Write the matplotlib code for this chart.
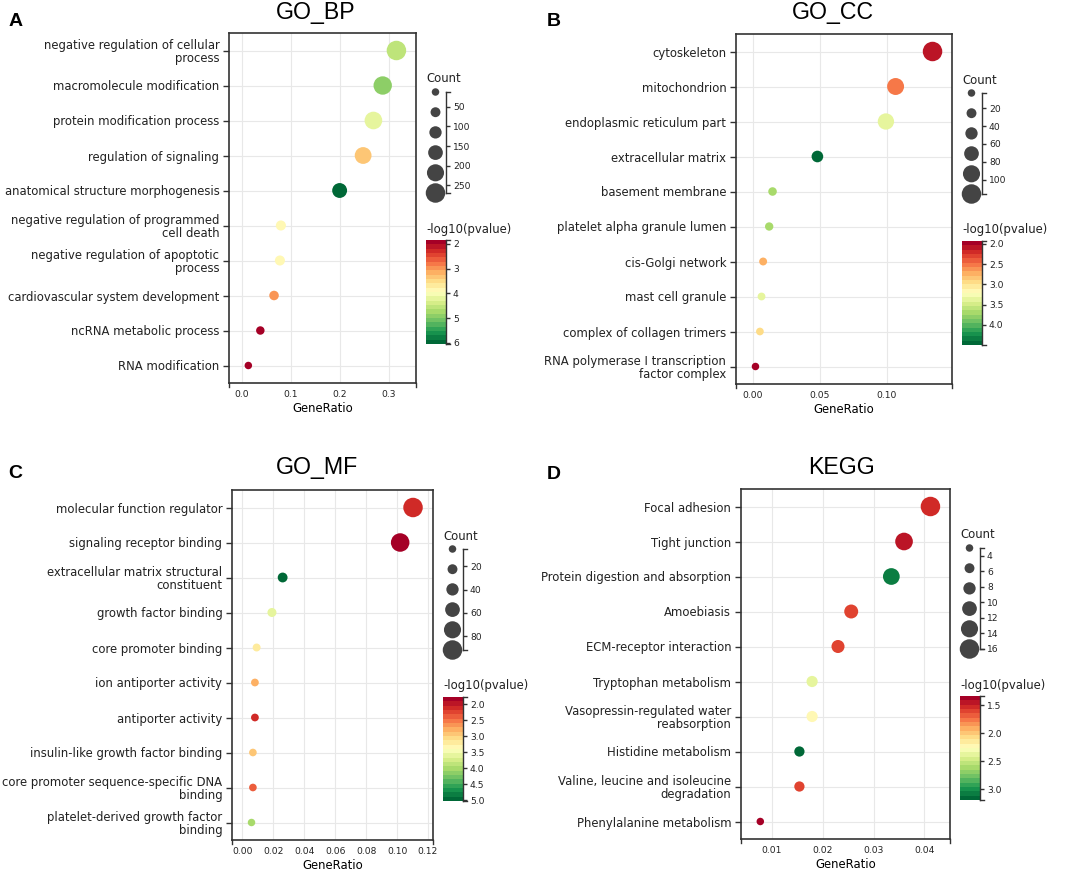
import numpy as np
import matplotlib
matplotlib.use("Agg")
import matplotlib.pyplot as plt
from matplotlib.colors import Normalize
from matplotlib import cm
from matplotlib.lines import Line2D

plt.rcParams['font.family'] = 'DejaVu Sans'
plt.rcParams['text.color'] = '#222222'
plt.rcParams['xtick.color'] = '#222222'
plt.rcParams['ytick.color'] = '#222222'

W, H = 1065, 875

# GO_BP
bp_terms = ["negative regulation of cellular\nprocess", "macromolecule modification",
            "protein modification process", "regulation of signaling",
            "anatomical structure morphogenesis", "negative regulation of programmed\ncell death",
            "negative regulation of apoptotic\nprocess", "cardiovascular system development",
            "ncRNA metabolic process", "RNA modification"]
bp_ratio = [0.316, 0.288, 0.269, 0.248, 0.200, 0.080, 0.078, 0.066, 0.038, 0.0135]
bp_count = [270, 246, 230, 212, 171, 68, 67, 56, 33, 12]
bp_logp = [4.6, 4.9, 4.15, 3.3, 6.05, 3.9, 3.9, 2.9, 1.95, 1.95]
bp_crange = (1.84, 6.05)
bp_size_ticks = [50, 100, 150, 200, 250]
bp_cbar_ticks = [2, 3, 4, 5, 6]

# GO_CC
cc_terms = ["cytoskeleton", "mitochondrion", "endoplasmic reticulum part", "extracellular matrix",
            "basement membrane", "platelet alpha granule lumen", "cis-Golgi network",
            "mast cell granule", "complex of collagen trimers",
            "RNA polymerase I transcription\nfactor complex"]
cc_ratio = [0.134, 0.1065, 0.0993, 0.0483, 0.0149, 0.0124, 0.0079, 0.0067, 0.0055, 0.0022]
cc_count = [116, 92, 86, 42, 13, 11, 7, 6, 5, 3]
cc_logp = [2.04, 2.57, 3.35, 4.45, 3.75, 3.75, 2.7, 3.4, 3.0, 1.98]
cc_crange = (1.93, 4.5)
cc_size_ticks = [20, 40, 60, 80, 100]
cc_cbar_ticks = [2.0, 2.5, 3.0, 3.5, 4.0]

# GO_MF
mf_terms = ["molecular function regulator", "signaling receptor binding",
            "extracellular matrix structural\nconstituent", "growth factor binding",
            "core promoter binding", "ion antiporter activity", "antiporter activity",
            "insulin-like growth factor binding", "core promoter sequence-specific DNA\nbinding",
            "platelet-derived growth factor\nbinding"]
mf_ratio = [0.1103, 0.102, 0.0261, 0.0192, 0.0093, 0.0082, 0.0082, 0.0069, 0.0069, 0.006]
mf_count = [92, 85, 22, 16, 8, 7, 7, 6, 6, 5]
mf_logp = [2.05, 1.85, 5.0, 3.55, 3.15, 2.75, 2.15, 2.9, 2.4, 4.05]
mf_crange = (1.77, 5.03)
mf_size_ticks = [20, 40, 60, 80]
mf_cbar_ticks = [2.0, 2.5, 3.0, 3.5, 4.0, 4.5, 5.0]

# KEGG
kegg_terms = ["Focal adhesion", "Tight junction", "Protein digestion and absorption",
              "Amoebiasis", "ECM-receptor interaction", "Tryptophan metabolism",
              "Vasopressin-regulated water\nreabsorption", "Histidine metabolism",
              "Valine, leucine and isoleucine\ndegradation", "Phenylalanine metabolism"]
kegg_ratio = [0.0412, 0.036, 0.0335, 0.0256, 0.0230, 0.0179, 0.0179, 0.0154, 0.0154, 0.0077]
kegg_count = [16, 14, 13, 10, 9, 7, 7, 6, 6, 3]
kegg_logp = [1.5, 1.42, 3.1, 1.58, 1.58, 2.39, 2.26, 3.19, 1.58, 1.34]
kegg_crange = (1.335, 3.19)
kegg_size_ticks = [4, 6, 8, 10, 12, 14, 16]
kegg_cbar_ticks = [1.5, 2.0, 2.5, 3.0]

cmap = plt.get_cmap('RdYlGn', 24)
dark = '#333333'
label_fs = 8.4


def px_rect(x0, y0, x1, y1):
    return [x0 / W, 1 - y1 / H, (x1 - x0) / W, (y1 - y0) / H]


def dot_size(c, cmin, cmax):
    d = 7.5 + (c - cmin) / (cmax - cmin) * 12.0  # diameter in px
    return (d * 72 / 100) ** 2


def end_ticks(ax, horizontal, span_px):
    # small ticks at both ends of an axis line (bracket look)
    k = 4.0 / span_px
    for e in (0, 1):
        if horizontal:
            xs, ys = [e, e], [0, -k]
        else:
            xs, ys = [1, 1 + k], [e, e]
        ax.add_line(Line2D(xs, ys, transform=ax.transAxes, color=dark, lw=1.0, clip_on=False))


def draw_panel(fig, box, terms, ratio, count, logp, crange, xlim, xticks, xfmt,
               size_ticks, cbar_ticks, cbar_fmt, title, title_xy, letter, letter_xy):
    x0, y0, x1, y1 = box
    ax = fig.add_axes(px_rect(x0, y0, x1, y1))
    n = len(terms)
    ypos = np.arange(n)[::-1]
    cmin, cmax = min(count), max(count)
    norm = Normalize(*crange)

    ax.set_axisbelow(True)
    ax.scatter(ratio, ypos, s=[dot_size(c, cmin, cmax) for c in count], c=logp,
               cmap=cmap, norm=norm, linewidths=0, zorder=3)
    ax.set_ylim(-0.5, n - 0.5)
    ax.set_xlim(*xlim)
    ax.set_yticks(ypos)
    ax.set_yticklabels(terms, fontsize=label_fs, linespacing=1.0)
    ax.set_xticks(xticks)
    ax.set_xticklabels([xfmt.format(v) for v in xticks], fontsize=6.6)
    ax.tick_params(axis='x', length=0, pad=5)
    ax.tick_params(axis='y', length=4, width=1, color=dark, pad=3)
    ax.grid(True, color='#e8e8e8', lw=0.8)
    for s in ax.spines.values():
        s.set_color(dark)
        s.set_linewidth(1.2)
    end_ticks(ax, True, y1 - y0)
    ax.set_xlabel('GeneRatio', fontsize=label_fs, labelpad=2)

    # size legend
    lx0 = x1 + 10
    lax = fig.add_axes(px_rect(lx0, y0 + 59, lx0 + 20, y0 + 160))
    lax.patch.set_visible(False)
    lax.set_xlim(0, 1)
    lax.set_ylim(cmax, cmin)
    levels = np.linspace(cmin, cmax, 6)
    lax.scatter([0.475] * 6, levels, s=[dot_size(c, cmin, cmax) for c in levels],
                color='#444444', linewidths=0, clip_on=False)
    for k in ('left', 'top', 'bottom'):
        lax.spines[k].set_visible(False)
    lax.spines['right'].set_color(dark)
    lax.spines['right'].set_linewidth(1.0)
    lax.set_xticks([])
    lax.yaxis.tick_right()
    lax.set_yticks(size_ticks)
    lax.tick_params(axis='y', length=3, width=1, color=dark, labelsize=6.6, pad=2)
    end_ticks(lax, False, 20)
    fig.text(lx0 / W, 1 - (y0 + 46) / H, 'Count', fontsize=label_fs, va='center', ha='left')

    # colour bar
    cax = fig.add_axes(px_rect(lx0, y0 + 207, lx0 + 20, y0 + 311))
    sm = cm.ScalarMappable(norm=norm, cmap=cmap)
    cb = fig.colorbar(sm, cax=cax, ticks=cbar_ticks)
    cb.outline.set_visible(False)
    cax.invert_yaxis()
    cb.set_ticklabels([cbar_fmt.format(v) for v in cbar_ticks])
    cax.tick_params(length=3, width=1, color=dark, labelsize=6.6, pad=2)
    cax.add_line(Line2D([1, 1], [0, 1], transform=cax.transAxes, color=dark, lw=1.0, clip_on=False))
    end_ticks(cax, False, 20)
    fig.text(lx0 / W, 1 - (y0 + 196) / H, '-log10(pvalue)', fontsize=label_fs, va='center', ha='left')

    fig.text(title_xy[0] / W, 1 - title_xy[1] / H, title, fontsize=16.7,
             family='Liberation Sans', ha='center', va='center', color='black')
    fig.text(letter_xy[0] / W, 1 - letter_xy[1] / H, letter, fontsize=14, fontweight='bold',
             family='Liberation Sans', ha='left', va='center', color='black')
    return ax


fig = plt.figure(figsize=(W / 100, H / 100), dpi=100)

draw_panel(fig, (229, 33, 416, 383), bp_terms, bp_ratio, bp_count, bp_logp, bp_crange,
           (-0.026, 0.356), [0.0, 0.1, 0.2, 0.3], '{:.1f}', bp_size_ticks, bp_cbar_ticks, '{:.0f}',
           'GO_BP', (316, 12), 'A', (9, 22))
draw_panel(fig, (736, 34, 952, 384), cc_terms, cc_ratio, cc_count, cc_logp, cc_crange,
           (-0.0123, 0.1485), [0.0, 0.05, 0.10], '{:.2f}', cc_size_ticks, cc_cbar_ticks, '{:.1f}',
           'GO_CC', (833, 12), 'B', (547, 21))
draw_panel(fig, (232, 490, 433, 840), mf_terms, mf_ratio, mf_count, mf_logp, mf_crange,
           (-0.0066, 0.1232), [0.0, 0.02, 0.04, 0.06, 0.08, 0.10, 0.12], '{:.2f}',
           mf_size_ticks, mf_cbar_ticks, '{:.1f}', 'GO_MF', (317, 468), 'C', (8, 474))
draw_panel(fig, (741, 489, 950, 839), kegg_terms, kegg_ratio, kegg_count, kegg_logp, kegg_crange,
           (0.0039, 0.04505), [0.01, 0.02, 0.03, 0.04], '{:.2f}', kegg_size_ticks, kegg_cbar_ticks,
           '{:.1f}', 'KEGG', (841, 467), 'D', (547, 475))

fig.savefig('out.png', dpi=100)
